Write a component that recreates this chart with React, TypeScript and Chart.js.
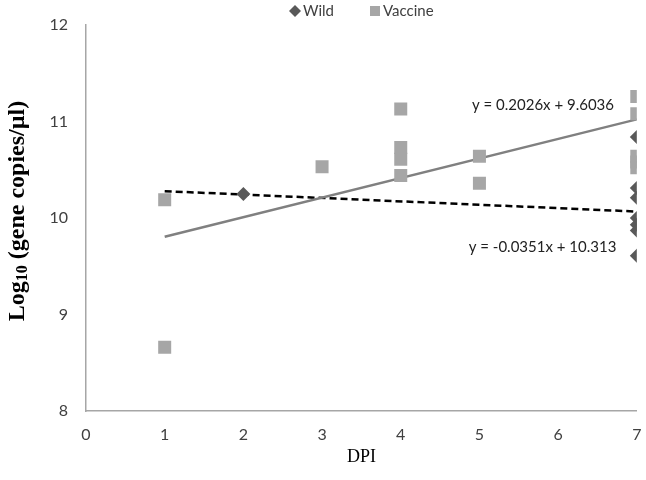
import React, { useEffect, useRef } from "react";
import { Chart, registerables } from "chart.js";

Chart.register(...registerables);

const wildX = [2, 7, 7, 7, 7, 7, 7, 7];
const wildY = [10.25, 10.84, 10.31, 10.21, 10.0, 9.93, 9.87, 9.61];

const vaccineX = [1, 1, 3, 4, 4, 4, 4, 5, 5, 7, 7, 7, 7, 7];
const vaccineY = [10.19, 8.66, 10.53, 11.13, 10.73, 10.61, 10.44, 10.64, 10.36, 11.26, 11.08, 10.64, 10.58, 10.52];

const vaccineTrendX = [1, 7];
const vaccineTrendY = [9.806, 11.022];
const wildTrendX = [1, 7];
const wildTrendY = [10.278, 10.067];

const xTicks = [0, 1, 2, 3, 4, 5, 6, 7];
const yTicks = [8, 9, 10, 11, 12];

const seriesNames = ["Wild", "Vaccine"];
const vaccineEquation = "y = 0.2026x + 9.6036";
const wildEquation = "y = -0.0351x + 10.313";

const WILD_COLOR = "#595959";
const VACCINE_COLOR = "#A6A6A6";

const toPoints = (xs: number[], ys: number[]) => xs.map((x, i) => ({ x, y: ys[i] }));

export default function App() {
  const ref = useRef<HTMLCanvasElement | null>(null);

  useEffect(() => {
    document.body.style.margin = "0";
    const canvas = ref.current;
    if (!canvas) return;

    const overlay = {
      id: "overlay",
      afterDraw(chart: any) {
        const ctx = chart.ctx;
        const xs = chart.scales.x;
        const ys = chart.scales.y;

        // equations
        ctx.save();
        ctx.fillStyle = "#222222";
        ctx.font = "15px Lato";
        ctx.textAlign = "right";
        ctx.textBaseline = "middle";
        ctx.fillText(vaccineEquation, xs.getPixelForValue(6.71), ys.getPixelForValue(11.17));
        ctx.fillText(wildEquation, xs.getPixelForValue(6.74), ys.getPixelForValue(9.7));
        ctx.restore();

        // legend
        ctx.save();
        ctx.font = "15px Lato";
        ctx.textBaseline = "middle";
        ctx.textAlign = "left";
        const ly = 11;
        ctx.fillStyle = WILD_COLOR;
        ctx.beginPath();
        ctx.moveTo(289, ly);
        ctx.lineTo(295, ly - 6);
        ctx.lineTo(301, ly);
        ctx.lineTo(295, ly + 6);
        ctx.closePath();
        ctx.fill();
        ctx.fillStyle = "#404040";
        ctx.fillText(seriesNames[0], 303, ly);
        ctx.fillStyle = VACCINE_COLOR;
        ctx.fillRect(370, ly - 5, 10, 10);
        ctx.fillStyle = "#404040";
        ctx.fillText(seriesNames[1], 383, ly);
        ctx.restore();

        // y-axis title with subscript
        ctx.save();
        const cy = (chart.chartArea.top + chart.chartArea.bottom) / 2 - 7;
        ctx.translate(18, cy);
        ctx.rotate(-Math.PI / 2);
        ctx.fillStyle = "#000000";
        ctx.textBaseline = "middle";
        ctx.textAlign = "left";
        const big = "bold 24px 'Liberation Serif'";
        const small = "bold 16px 'Liberation Serif'";
        const parts = [
          { t: "Log", f: big, dy: 0 },
          { t: "10", f: small, dy: 5 },
          { t: " (gene copies/\u00b5l)", f: big, dy: 0 },
        ];
        let total = 0;
        for (const p of parts) {
          ctx.font = p.f;
          total += ctx.measureText(p.t).width;
        }
        let x = -total / 2;
        for (const p of parts) {
          ctx.font = p.f;
          ctx.fillText(p.t, x, p.dy);
          x += ctx.measureText(p.t).width;
        }
        ctx.restore();
      },
    };

    const chart = new Chart(canvas, {
      type: "scatter",
      data: {
        datasets: [
          {
            label: "Wild",
            data: toPoints(wildX, wildY),
            pointStyle: "rectRot",
            pointRadius: 7,
            pointHoverRadius: 7,
            backgroundColor: WILD_COLOR,
            borderColor: WILD_COLOR,
            borderWidth: 0,
          },
          {
            label: "Vaccine",
            data: toPoints(vaccineX, vaccineY),
            pointStyle: "rect",
            pointRadius: 9.2,
            pointHoverRadius: 9.2,
            backgroundColor: VACCINE_COLOR,
            borderColor: VACCINE_COLOR,
            borderWidth: 0,
          },
          {
            label: "vaccineTrend",
            data: toPoints(vaccineTrendX, vaccineTrendY),
            showLine: true,
            pointRadius: 0,
            borderColor: "#808080",
            borderWidth: 2.5,
            backgroundColor: "#808080",
          },
          {
            label: "wildTrend",
            data: toPoints(wildTrendX, wildTrendY),
            showLine: true,
            pointRadius: 0,
            borderColor: "#000000",
            borderWidth: 2.5,
            borderDash: [7, 4],
            backgroundColor: "#000000",
          },
        ],
      },
      options: {
        animation: false,
        responsive: false,
        maintainAspectRatio: false,
        layout: { padding: { left: 0, right: 6, top: 25, bottom: 0 } },
        plugins: {
          tooltip: { enabled: false },
          legend: { display: false },
        },
        scales: {
          x: {
            type: "linear",
            min: 0,
            max: 7,
            afterBuildTicks: (scale: any) => {
              scale.ticks = xTicks.map((v) => ({ value: v }));
            },
            afterFit: (scale: any) => {
              scale.height = 69;
              scale.paddingRight = 6;
              scale.paddingLeft = 0;
            },
            grid: { display: false, drawTicks: false },
            border: { display: true, color: "#A6A6A6", width: 1.5 },
            ticks: { color: "#404040", font: { family: "Lato", size: 16 }, padding: 14, maxRotation: 0 },
            title: {
              display: true,
              text: "DPI",
              color: "#000000",
              font: { family: "'Liberation Serif'", size: 18 },
              padding: { top: 0, bottom: 12 },
            },
          },
          y: {
            type: "linear",
            min: 8,
            max: 12,
            afterBuildTicks: (scale: any) => {
              scale.ticks = yTicks.map((v) => ({ value: v }));
            },
            afterFit: (scale: any) => {
              scale.width = 86;
              scale.paddingTop = 0;
              scale.paddingBottom = 0;
            },
            grid: { display: false, drawTicks: false },
            border: { display: true, color: "#A6A6A6", width: 1.5 },
            ticks: { color: "#404040", font: { family: "Lato", size: 16 }, padding: 18 },
          },
        },
      },
      plugins: [overlay],
    });

    return () => chart.destroy();
  }, []);

  return (
    <div style={{ width: 646, height: 480 }}>
      <canvas ref={ref} width={646} height={480} style={{ display: "block" }} />
    </div>
  );
}
